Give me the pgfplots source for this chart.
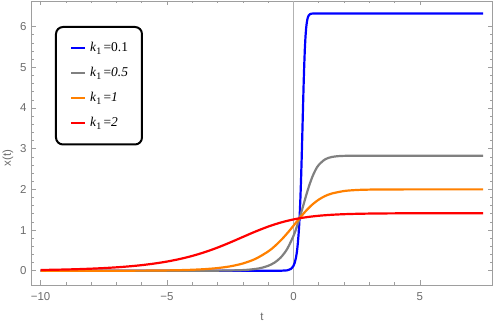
\documentclass[border=0pt]{standalone}
\usepackage{fontspec}
\setmainfont{Liberation Sans}
\newfontfamily\seriffont{Liberation Serif}
\usepackage{pgfplots}
\pgfplotsset{compat=1.18}
\definecolor{mblue}{rgb}{0,0,1}
\definecolor{mgray}{rgb}{0.5,0.5,0.5}
\definecolor{morange}{rgb}{1,0.5,0}
\definecolor{mred}{rgb}{1,0,0}
\definecolor{framec}{gray}{0.62}
\definecolor{labelc}{gray}{0.42}
\newcommand{\kone}{\hspace*{4bp}\textit{k}\raisebox{-2.8bp}{\fontsize{10}{11}\selectfont 1}\,=}
\begin{document}
\begin{tikzpicture}
\begin{axis}[
  scale only axis,
  width=460.3bp, height=284bp,
  xmin=-10.35, xmax=7.85,
  ymin=-0.35, ymax=6.63,
  xtick={-10,-5,0,5},
  xticklabels={−10,−5,0,5},
  ytick={0,1,2,3,4,5,6},
  yticklabels={0,1,2,3,4,5,6},
  minor x tick num=4,
  minor y tick num=4,
  tick align=inside,
  tick pos=both,
  xticklabel pos=lower,
  yticklabel pos=left,
  major tick length=4.5bp,
  minor tick length=2.5bp,
  axis line style={framec, line width=0.8bp},
  every tick/.style={framec, line width=0.6bp},
  tick label style={font=\fontsize{11.5}{13}\selectfont, text=labelc},
  xticklabel style={anchor=base, yshift=-15bp, inner sep=0pt},
  yticklabel style={anchor=east, xshift=-5bp, inner sep=0pt},
  xlabel={t}, ylabel={x(t)},
  every axis x label/.style={at={(axis description cs:0.5,0)}, anchor=base, yshift=-35bp,
    font=\fontsize{11.5}{13}\selectfont, text=labelc},
  every axis y label/.style={at={(axis description cs:0,0.447)}, xshift=-23.7bp, rotate=90, anchor=center,
    font=\fontsize{11.5}{13}\selectfont, text=labelc},
  legend cell align=left,
  legend style={at={(0.0506,0.912)}, anchor=north west, draw=black, line width=2bp,
    rounded corners=7bp, inner xsep=14bp, inner ysep=15bp,
    font=\seriffont\fontsize{13.5}{15}\selectfont,
    nodes={inner sep=0pt, text height=9.5bp, text depth=3bp},
    row sep=12.5bp},
  legend image code/.code={\draw[#1, line width=2.2bp] (0bp,0bp) -- (14bp,0bp);},
  clip=true,
]
\addplot[forget plot, color=black!30, line width=0.6bp] coordinates {(0,-0.35) (0,6.63)};

\addplot[mblue, line width=2.2bp] coordinates {
(-10,0) (-1,0) (-0.5,0.0008) (-0.25,0.0098) (-0.1,0.0439) (0,0.1193) (0.05,0.1967)
(0.1,0.3240) (0.125,0.42) (0.15,0.5330) (0.175,0.69) (0.2,0.8735) (0.225,1.11) (0.25,1.4171) (0.275,1.79)
(0.3,2.2418) (0.325,2.77) (0.35,3.3520) (0.375,3.96) (0.4,4.5386) (0.425,5.04) (0.45,5.4504) (0.475,5.75)
(0.5,5.9564) (0.525,6.09) (0.55,6.1813) (0.575,6.235) (0.6,6.2707) (0.65,6.3046) (0.7,6.3172)
(0.8,6.3236) (1,6.3245) (7.5,6.3246)};
\addlegendentry{\kone0.1}

\addplot[mgray, line width=2.2bp, smooth] coordinates {
(-10,0) (-4,0.0003) (-3,0.00223) (-2,0.0164) (-1.5,0.0447) (-1.25,0.0736) (-1,0.1213)
(-0.75,0.1997) (-0.5,0.3279) (-0.25,0.5344) (0,0.8554) (0.125,1.0671) (0.25,1.3110)
(0.375,1.5771) (0.5,1.8472) (0.625,2.0992) (0.75,2.3136) (0.875,2.4807) (1,2.6016)
(1.25,2.7383) (1.5,2.7942) (1.75,2.8157) (2,2.8237) (2.5,2.8278) (3,2.8284) (7.5,2.8284)};
\addlegendentry{\kone\textit{0.5}}

\addplot[morange, line width=2.2bp, smooth] coordinates {
(-10,0.0001) (-8,0.000445) (-6,0.00329) (-5,0.00894) (-4.5,0.01474) (-4,0.0243)
(-3.5,0.0401) (-3,0.0660) (-2.5,0.1088) (-2,0.1789) (-1.5,0.2930) (-1,0.4743)
(-0.75,0.5982) (-0.5,0.7469) (-0.25,0.9183) (0,1.1060) (0.25,1.2972) (0.5,1.4763)
(0.75,1.6294) (1,1.7492) (1.25,1.8362) (1.5,1.8957) (2,1.9597) (2.5,1.9849)
(3,1.9944) (3.5,1.9979) (4,1.9992) (5,1.9999) (7.5,2.0)};
\addlegendentry{\kone\textit{1}}

\addplot[mred, line width=2.2bp, smooth] coordinates {
(-10,0.01881) (-9.5,0.02415) (-9,0.03101) (-8.5,0.03980) (-8,0.05110) (-7.5,0.06559)
(-7,0.08415) (-6.5,0.1079) (-6,0.1383) (-5.5,0.1771) (-5,0.2262) (-4.5,0.2881)
(-4,0.3650) (-3.5,0.4589) (-3,0.5700) (-2.5,0.6961) (-2,0.8310) (-1.5,0.9644)
(-1,1.0854) (-0.5,1.1854) (0,1.2615) (0.5,1.3155) (1,1.3518) (1.5,1.3753)
(2,1.3903) (2.5,1.3995) (3,1.4053) (3.5,1.4087) (4,1.4109) (4.5,1.4122)
(5,1.4130) (6,1.4138) (7,1.4141) (7.5,1.4142)};
\addlegendentry{\kone\textit{2}}
\end{axis}
\pgfresetboundingbox
\path ([shift={(-31.7bp,-39bp)}]current axis.south west) rectangle ([shift={(1bp,1bp)}]current axis.north east);
\end{tikzpicture}
\end{document}
